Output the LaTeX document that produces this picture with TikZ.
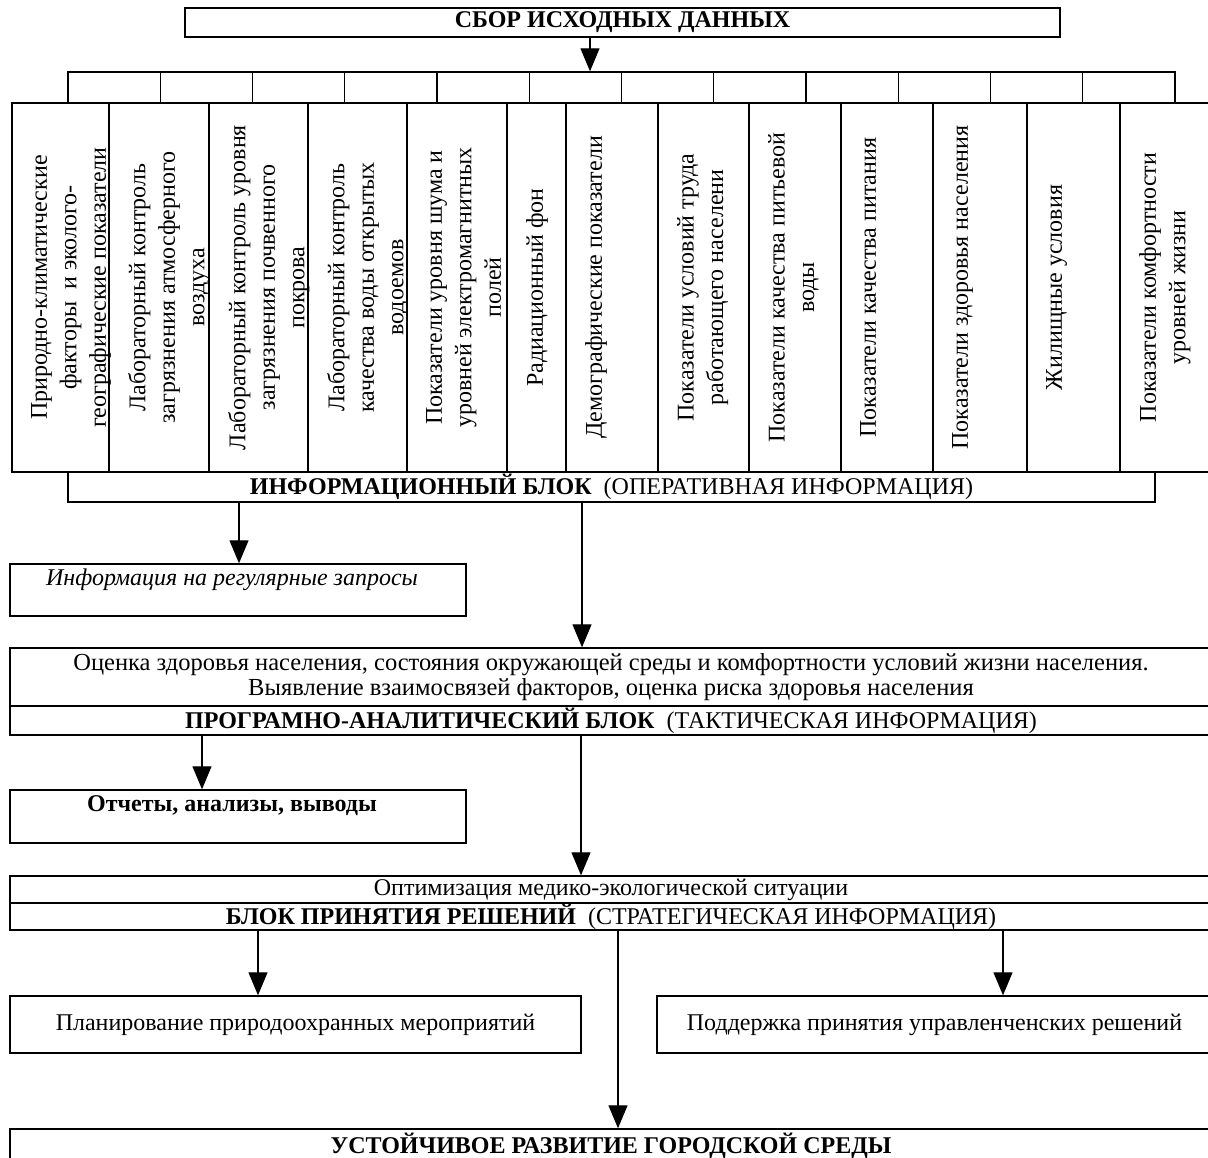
\documentclass[tikz,border=0pt]{standalone}
\usepackage{fontspec}
\setmainfont{Liberation Serif}
\usetikzlibrary{arrows.meta,positioning,calc}

\tikzset{
  box/.style={draw, line width=1.4pt, inner sep=0pt},
  colbox/.style={box, minimum height=369},
  coltext/.style={rotate=90, anchor=north, align=center, inner sep=0pt, font=\fontsize{24}{29.5}\selectfont},
  arr/.style={-{Triangle[width=19pt,length=23pt]}, line width=1.3pt},
}

\begin{document}
\begin{tikzpicture}[x=1pt,y=-1pt,font=\fontsize{24}{27}\selectfont]
    \useasboundingbox (0,0) rectangle (1208,1158);

    \node [box, minimum width=875, minimum height=29] (sbor) at (622.5,22.5) {\textbf{СБОР ИСХОДНЫХ ДАННЫХ}};

    % header cells
    \foreach \i in {0,...,11}
        \node [box, minimum width=92.25, minimum height=31] (h\i) at (114.125+92.25*\i,87.5) {};

    % columns of source data
    \foreach \l/\w/\t [count=\i] in {
        12/97/{Природно-климатические\\факторы\ \ и эколого-\\географические показатели},
        109/100/{Лабораторный контроль\\загрязнения атмосферного\\воздуха},
        209/99/{Лабораторный контроль уровня\\загрязнения почвенного\\покрова},
        308/99/{Лабораторный контроль\\качества воды открытых\\водоемов},
        407/100/{Показатели уровня шума и\\уровней электромагнитных\\полей},
        507/59/{Радиационный фон},
        566/92/{Демографические показатели},
        658/91/{Показатели условий труда\\работающего населени},
        749/92/{Показатели качества питьевой\\воды},
        841/92/{Показатели качества питания},
        933/94/{Показатели здоровья населения},
        1027/93/{Жилищные условия},
        1120/92/{Показатели комфортности\\уровней жизни}}
    {
        \node [colbox, minimum width=\w] (c\i) at (\l+\w/2,287.5) {};
        \node [coltext] (t\i) at (\l+19,287.5) {\t};
    }

    \node [box, minimum width=1087, minimum height=30] (info) at (611.5,487) {\textbf{ИНФОРМАЦИОННЫЙ БЛОК}\ \ (ОПЕРАТИВНАЯ ИНФОРМАЦИЯ)};

    \node [box, minimum width=456, minimum height=52] (reg) at (238,590) {};
    \node [font=\fontsize{24}{27}\selectfont\itshape] (regtxt) at (232,580) {Информация на регулярные запросы};

    \node [box, minimum width=1202, minimum height=58, align=center, font=\fontsize{24.5}{25}\selectfont] (ocenka) at (611,677) {Оценка здоровья населения, состояния окружающей среды и комфортности условий жизни населения.\\Выявление взаимосвязей факторов, оценка риска здоровья населения};
    \node [box, minimum width=1202, minimum height=29] (prog) at (611,720.5) {\textbf{ПРОГРАМНО-АНАЛИТИЧЕСКИЙ БЛОК}\ \ (ТАКТИЧЕСКАЯ ИНФОРМАЦИЯ)};

    \node [box, minimum width=456, minimum height=53] (rep) at (238,816.5) {};
    \node [font=\fontsize{24}{27}\selectfont\bfseries] (reptxt) at (232,806) {Отчеты, анализы, выводы};

    \node [box, minimum width=1202, minimum height=27] (opt) at (611,889.5) {Оптимизация медико-экологической ситуации};
    \node [box, minimum width=1202, minimum height=27] (blk) at (611,916.5) {\textbf{БЛОК ПРИНЯТИЯ РЕШЕНИЙ}\ \ (СТРАТЕГИЧЕСКАЯ ИНФОРМАЦИЯ)};

    \node [box, minimum width=571, minimum height=57] (plan) at (295.5,1024.5) {Планирование природоохранных мероприятий};
    \node [box, minimum width=555, minimum height=57] (supp) at (934.5,1024.5) {Поддержка принятия управленченских решений};

    \node [box, minimum width=1202, minimum height=33] (goal) at (611,1145.5) {\textbf{УСТОЙЧИВОЕ РАЗВИТИЕ ГОРОДСКОЙ СРЕДЫ}};

    % arrow columns
    \coordinate (ax1) at (590,0);
    \coordinate (ax2) at (239,0);
    \coordinate (ax3) at (582,0);
    \coordinate (ax4) at (202,0);
    \coordinate (ax5) at (581,0);
    \coordinate (ax6) at (258,0);
    \coordinate (ax7) at (1003,0);
    \coordinate (ax8) at (618,0);

    \draw [arr] (sbor.south -| ax1) -- (h5.north -| ax1);
    \draw [arr] (info.south -| ax2) -- (reg.north -| ax2);
    \draw [arr] (info.south -| ax3) -- (ocenka.north -| ax3);
    \draw [arr] (prog.south -| ax4) -- (rep.north -| ax4);
    \draw [arr] (prog.south -| ax5) -- (opt.north -| ax5);
    \draw [arr] (blk.south -| ax6) -- (plan.north -| ax6);
    \draw [arr] (blk.south -| ax7) -- (supp.north -| ax7);
    \draw [arr] (blk.south -| ax8) -- (goal.north -| ax8);
\end{tikzpicture}
\end{document}
